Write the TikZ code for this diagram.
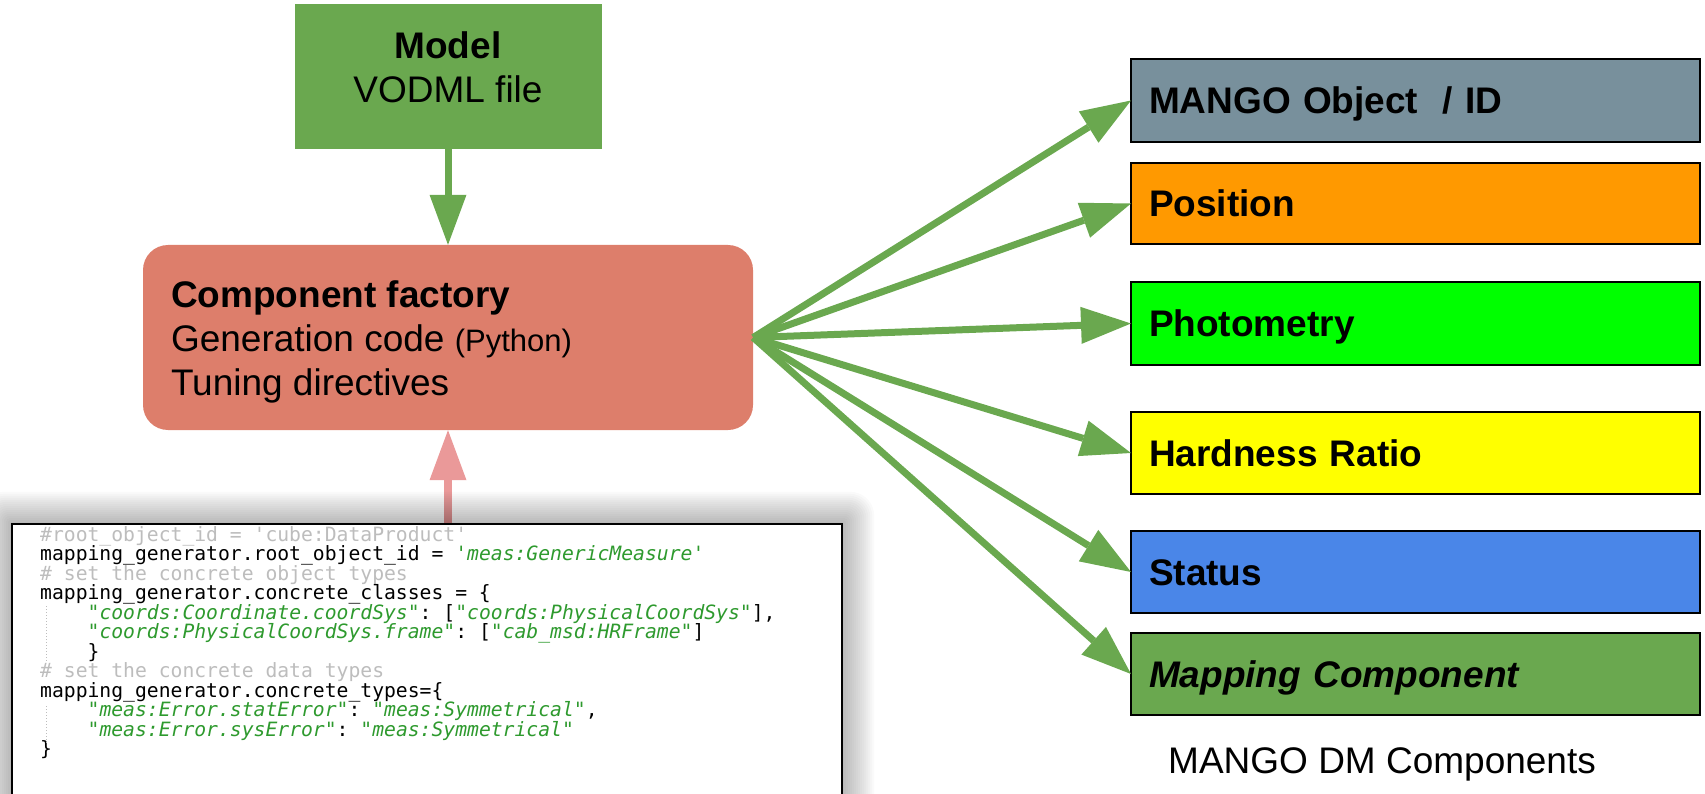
\documentclass[tikz,border=0pt]{standalone}
\usepackage{fontspec}
\setmainfont{Liberation Sans}
\setmonofont{DejaVu Sans Mono}
\usetikzlibrary{arrows.meta,positioning}
\definecolor{mgreen}{HTML}{6AA84F}
\definecolor{facred}{HTML}{DD7E6B}
\definecolor{pinkarrow}{HTML}{EA9999}
\definecolor{objgray}{HTML}{78909C}
\definecolor{posorange}{HTML}{FF9900}
\definecolor{photgreen}{HTML}{00FF00}
\definecolor{hardyellow}{HTML}{FFFF00}
\definecolor{statblue}{HTML}{4A86E8}
\definecolor{codegray}{HTML}{BDBDBD}
\definecolor{codegreen}{HTML}{2E9A2E}
\newcommand{\bigfont}{\fontsize{37}{44}\selectfont}
\newcommand{\cfont}{\ttfamily\fontsize{19.7}{19.5}\selectfont}
\newcommand{\ccmt}[1]{{\color{codegray}#1}}
\newcommand{\cstr}[1]{{\color{codegreen}\itshape #1}}
\newcommand{\cind}{\phantom{xxxx}}

\begin{document}
\begin{tikzpicture}[x=1pt, y=-1pt, every node/.style={font=\bigfont},
    compbox/.style={draw=black, line width=2pt, outer sep=0pt, inner xsep=18pt, inner ysep=0pt,
      text width=533pt, text height=26pt, text depth=0pt, font=\bigfont\bfseries},
    codebox/.style={draw=black, line width=1.5pt, fill=white},
    codeshade/.style={fill=black, fill opacity=0.019},
    codetext/.style={font=\cfont, inner sep=0pt, anchor=base west},
    guide/.style={draw=codegray, line width=1pt, dotted},
    arr/.style={-{Triangle[length=50pt, width=37pt, line width=0pt]}, line width=7pt, draw=mgreen},
    pinkarr/.style={arr, draw=pinkarrow, line width=8pt}]
  \useasboundingbox (0,0) rectangle (1705,794);
  % model and factory
  \node[fill=mgreen, minimum width=307pt, minimum height=145pt] (model) at (448,76.5) {};
  \node[anchor=north, align=center, inner sep=0pt] (modeltext) at ([yshift=-28pt]model.north)
    {\textbf{Model}\\VODML file};
  \node[fill=facred, rounded corners=25pt, minimum width=610pt, minimum height=185pt] (fac) at (448,337.5) {};
  \node[anchor=north west, align=left, inner sep=0pt] (factext) at ([xshift=28pt, yshift=-36pt]fac.north west)
    {\textbf{Component factory}\\Generation code {\fontsize{31}{44}\selectfont (Python)}\\Tuning directives};
  \draw[arr] (model) -- (fac);
  % code snippet
  \draw[pinkarr] (fac.south |- 0,524) -- (fac.south);
  \node[minimum width=830pt, minimum height=306pt] (code) at (427,677) {};
  \foreach \k in {1,...,16}
    \path[codeshade, rounded corners=\k*1.5pt]
      ([shift={(-2*\k,-2*\k)}]code.north west) rectangle ([shift={(2*\k,2*\k)}]code.south east);
  \draw[codebox] (code.north west) rectangle (code.south east);
  \foreach \codeline [count=\i from 0] in {
      {\ccmt{\#root\_object\_id = 'cube:DataProduct'}},
      {mapping\_generator.root\_object\_id = \cstr{'meas:GenericMeasure'}},
      {\ccmt{\# set the concrete object types}},
      {mapping\_generator.concrete\_classes = \{},
      {\cind\cstr{"coords:Coordinate.coordSys"}: [\cstr{"coords:PhysicalCoordSys"}],},
      {\cind\cstr{"coords:PhysicalCoordSys.frame"}: [\cstr{"cab\_msd:HRFrame"}]},
      {\cind\}},
      {\ccmt{\# set the concrete data types}},
      {mapping\_generator.concrete\_types=\{},
      {\cind\cstr{"meas:Error.statError"}: \cstr{"meas:Symmetrical"},},
      {\cind\cstr{"meas:Error.sysError"}: \cstr{"meas:Symmetrical"}},
      {\}}}
    \node[codetext] (line\i) at (40,{541+19.5*\i}) {\codeline};
  \draw[guide] (46,606) -- (46,662);
  \draw[guide] (46,706) -- (46,744);
  % components
  \node[compbox, fill=objgray, minimum height=83pt] (mango) at (1415.5,100.5) {MANGO Object\ \ / ID};
  \node[compbox, fill=posorange, minimum height=81pt, below=21pt of mango] (pos) {Position};
  \node[compbox, fill=photgreen, minimum height=83pt, below=38pt of pos] (phot) {Photometry};
  \node[compbox, fill=hardyellow, minimum height=82pt, below=47pt of phot] (hard) {Hardness Ratio};
  \node[compbox, fill=statblue, minimum height=82pt, below=37pt of hard] (stat) {Status};
  \node[compbox, fill=mgreen, minimum height=82pt, below=20pt of stat] (mapc) {\textit{Mapping Component}};
  \node[anchor=base west, inner sep=0pt] (caption) at (1168,773) {MANGO DM Components};
  \foreach \t in {mango,pos,phot,hard,stat,mapc}
    \draw[arr] (fac.east) -- (\t.west);
\end{tikzpicture}
\end{document}
